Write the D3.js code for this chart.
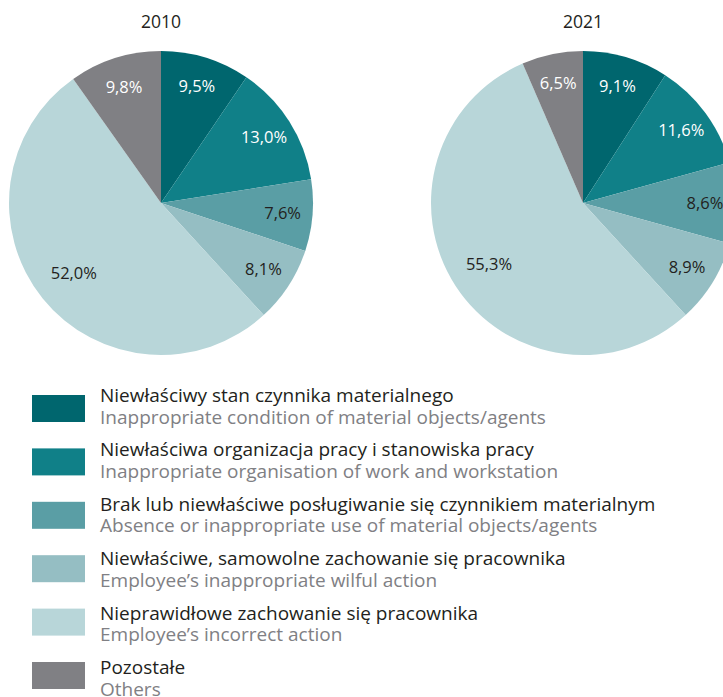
<!DOCTYPE html>
<html>
<head>
<meta charset="utf-8">
<script src="https://cdn.jsdelivr.net/npm/d3@7"></script>
<style>
  html, body { margin: 0; padding: 0; background: #fff; }
  svg { display: block; }
  text { font-family: "Open Sans", "Noto Sans", sans-serif; }
</style>
</head>
<body>
<svg id="chart" width="723" height="697"></svg>
<script>
const categoriesPL = [
  "Niewłaściwy stan czynnika materialnego",
  "Niewłaściwa organizacja pracy i stanowiska pracy",
  "Brak lub niewłaściwe posługiwanie się czynnikiem materialnym",
  "Niewłaściwe, samowolne zachowanie się pracownika",
  "Nieprawidłowe zachowanie się pracownika",
  "Pozostałe"
];
const categoriesEN = [
  "Inappropriate condition of material objects/agents",
  "Inappropriate organisation of work and workstation",
  "Absence or inappropriate use of material objects/agents",
  "Employee’s inappropriate wilful action",
  "Employee’s incorrect action",
  "Others"
];
const years = ["2010", "2021"];
const values2010 = [9.5, 13.0, 7.6, 8.1, 52.0, 9.8];
const values2021 = [9.1, 11.6, 8.6, 8.9, 55.3, 6.5];
const colors = ["#00666e", "#108088", "#5a9ea5", "#95bec3", "#b8d6d9", "#808084"];
const labelColors = ["#ffffff", "#ffffff", "#231f20", "#231f20", "#231f20", "#ffffff"];

const svg = d3.select("#chart");
const R = 152;
const centers = [[161, 203], [583, 203]];
const series = [values2010, values2021];

const pie = d3.pie().sort(null).value(d => d);
const arc = d3.arc().innerRadius(0).outerRadius(R);
const labelArc = d3.arc().innerRadius(122).outerRadius(122);
const bigLabelArc = d3.arc().innerRadius(112).outerRadius(112);
const fmt = v => d3.format(".1f")(v).replace(".", ",") + "%";

series.forEach((vals, i) => {
  const g = svg.append("g").attr("transform", `translate(${centers[i][0]},${centers[i][1]})`);
  const arcs = pie(vals);
  g.selectAll("path").data(arcs).enter().append("path")
    .attr("d", arc)
    .attr("fill", (d, j) => colors[j]);
  g.selectAll("text.lbl").data(arcs).enter().append("text")
    .attr("class", "lbl")
    .attr("transform", d => `translate(${(d.data > 40 ? bigLabelArc : labelArc).centroid(d)})`)
    .attr("text-anchor", "middle")
    .attr("dy", "0.35em")
    .attr("font-size", 16.5)
    .attr("fill", (d, j) => labelColors[j])
    .text(d => fmt(d.data));
  svg.append("text")
    .attr("x", centers[i][0])
    .attr("y", 28)
    .attr("text-anchor", "middle")
    .attr("font-size", 17.5)
    .attr("fill", "#231f20")
    .text(years[i]);
});

const legend = svg.append("g");
categoriesPL.forEach((c, k) => {
  legend.append("rect")
    .attr("x", 32).attr("y", 395 + k * 53.4)
    .attr("width", 53).attr("height", 27)
    .attr("fill", colors[k]);
  legend.append("text")
    .attr("x", 100).attr("y", 402 + k * 54.4)
    .attr("font-size", 19)
    .attr("fill", "#231f20")
    .text(c);
  legend.append("text")
    .attr("x", 100).attr("y", 423.5 + k * 54.4)
    .attr("font-size", 19)
    .attr("fill", "#808084")
    .text(categoriesEN[k]);
});
</script>
</body>
</html>
